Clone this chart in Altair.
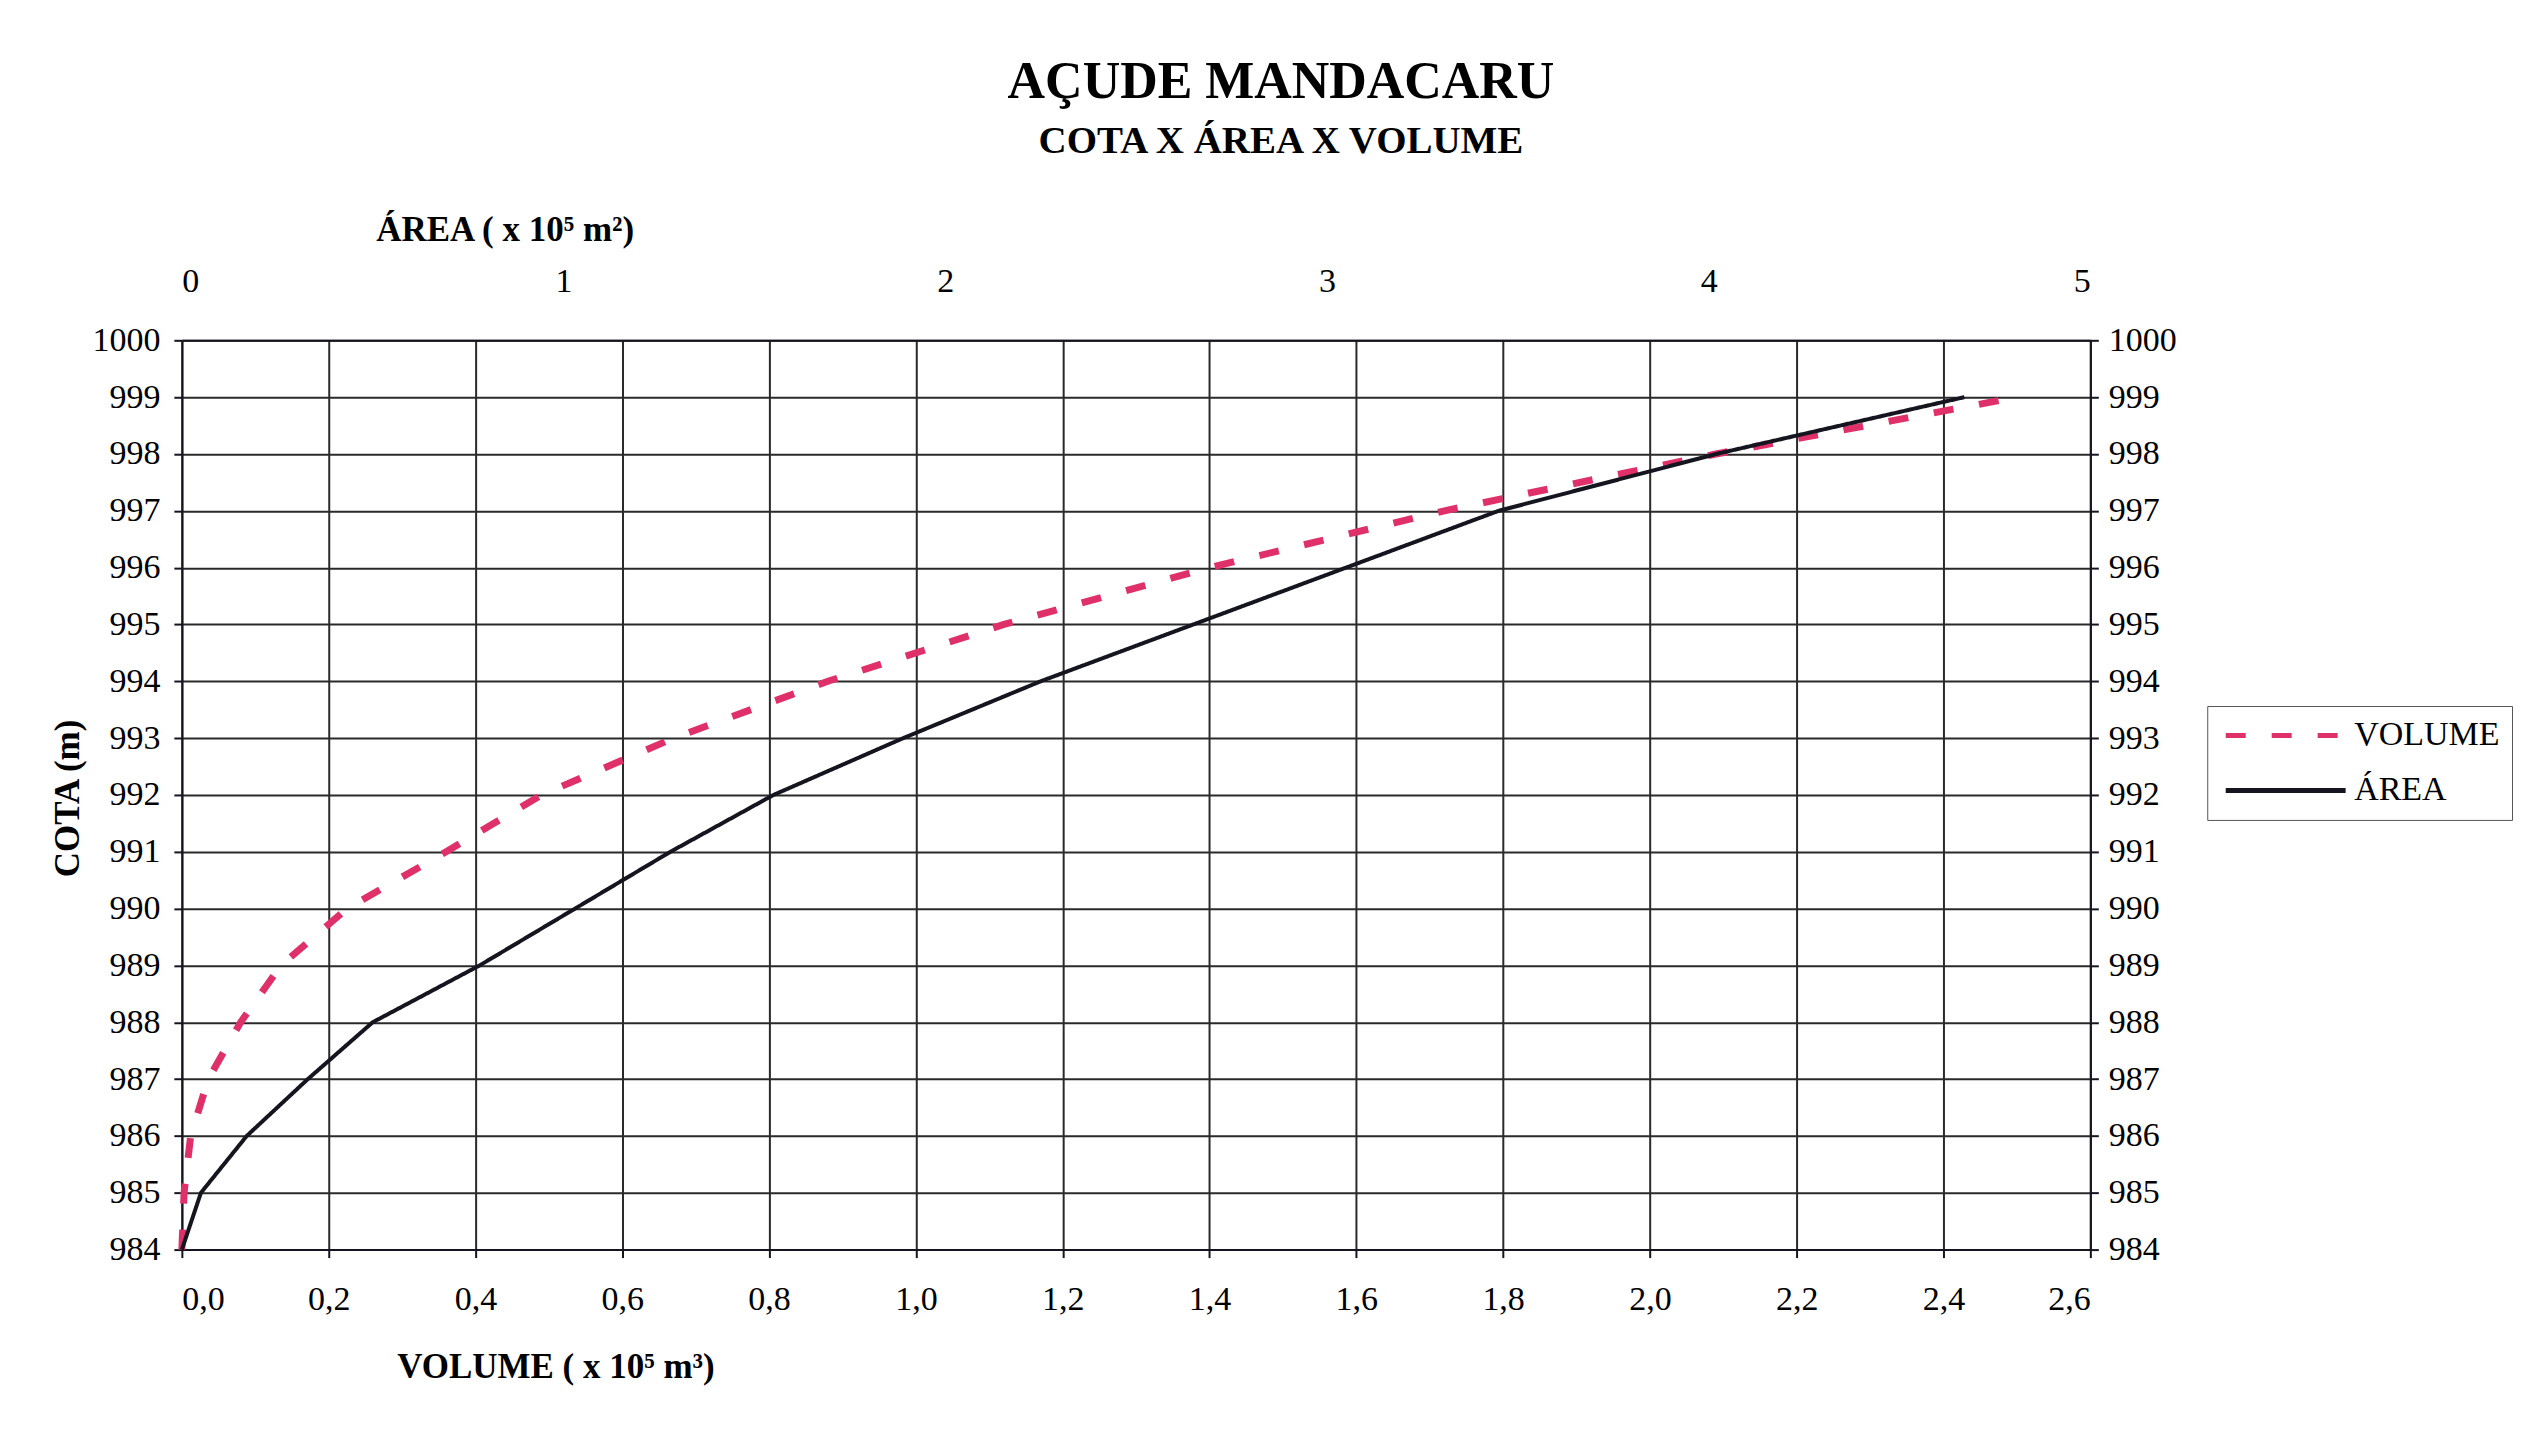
import altair as alt
import pandas as pd

SERIF = "Liberation Serif"
RED = "#e0306a"
BLACK = "#15151f"

cota = [984, 985, 986, 987, 988, 989, 990, 991, 992, 993, 994, 995, 996, 997, 998, 999]
volume = [0.0, 0.003, 0.012, 0.036, 0.08, 0.135, 0.225, 0.36, 0.49, 0.67, 0.88, 1.12, 1.40, 1.72, 2.09, 2.50]
area = [0.0, 0.05, 0.17, 0.33, 0.50, 0.78, 1.03, 1.28, 1.55, 1.89, 2.25, 2.65, 3.05, 3.45, 4.02, 4.67]
series = ["VOLUME", "ÁREA"]

volume_ticks = [0.0, 0.2, 0.4, 0.6, 0.8, 1.0, 1.2, 1.4, 1.6, 1.8, 2.0, 2.2, 2.4, 2.6]
area_ticks = [0, 1, 2, 3, 4, 5]
cota_ticks = [984, 985, 986, 987, 988, 989, 990, 991, 992, 993, 994, 995, 996, 997, 998, 999, 1000]

vol_df = pd.DataFrame({"cota": cota, "valor": volume, "serie": series[0]})
area_df = pd.DataFrame({"cota": cota, "valor": area, "serie": series[1]})

legend = alt.Legend(
    title=None, orient="none", legendX=2027, legendY=366,
    symbolType="M-7,0L1,0", symbolSize=900, symbolOffset=94, symbolStrokeWidth=5,
    labelFont=SERIF, labelFontSize=34, labelColor="black", labelOffset=6,
    rowPadding=20, strokeColor="#555", padding=12, fillColor="white",
)
color = alt.Color("serie:N", scale=alt.Scale(domain=series, range=[RED, BLACK]), legend=legend)
dash = alt.StrokeDash("serie:N", scale=alt.Scale(domain=series, range=[[20, 26], [1, 0]]), legend=legend)

common_axis = dict(
    labelFont=SERIF, labelFontSize=34, labelColor="black",
    titleFont=SERIF, titleFontSize=35, titleFontWeight="bold", titleColor="black",
    domainColor=BLACK, domainWidth=2, tickColor=BLACK, tickWidth=2, tickSize=8,
    gridColor="#2a2a2a", gridWidth=2, gridOpacity=1,
)

vol = alt.Chart(vol_df).mark_line(strokeWidth=7, strokeCap="butt").encode(
    x=alt.X("valor:Q", scale=alt.Scale(domain=[0, 2.6], nice=False, zero=False),
            axis=alt.Axis(orient="bottom", values=volume_ticks, grid=True,
                          labelExpr="replace(format(datum.value, '.1f'), '.', ',')",
                          labelPadding=25, title="VOLUME ( x 10⁵ m³)",
                          titleX=215, titleY=117, titleAlign="left", titleBaseline="middle",
                          **common_axis)),
    y=alt.Y("cota:Q", scale=alt.Scale(domain=[984, 1000], nice=False, zero=False),
            axis=alt.Axis(orient="left", values=cota_ticks, grid=True, format="d",
                          labelPadding=14, title="COTA (m)",
                          titleX=-114, titleY=458, titleAngle=270, titleAlign="center",
                          titleBaseline="middle", **common_axis)),
    color=color, strokeDash=dash, order=alt.Order("cota:Q"),
)

ar = alt.Chart(area_df).mark_line(strokeWidth=4).encode(
    x=alt.X("valor:Q", scale=alt.Scale(domain=[0, 5], nice=False, zero=False),
            axis=alt.Axis(orient="top", values=area_ticks, grid=False, ticks=False, format="d",
                          labelPadding=42, title="ÁREA ( x 10⁵ m²)",
                          titleX=194, titleY=-111, titleAlign="left", titleBaseline="middle",
                          **common_axis)),
    y=alt.Y("cota:Q", scale=alt.Scale(domain=[984, 1000], nice=False, zero=False),
            axis=alt.Axis(orient="right", values=cota_ticks, grid=False, format="d",
                          labelPadding=10, title=None, **common_axis)),
    color=color, strokeDash=dash, order=alt.Order("cota:Q"),
)

chart = alt.layer(vol, ar).resolve_scale(x="independent", y="independent").properties(
    width=1910, height=910,
    autosize=alt.AutoSizeParams(type="none"),
    padding={"left": 174, "top": 332, "right": 430, "bottom": 200},
    title=alt.TitleParams(
        "AÇUDE MANDACARU", subtitle="COTA X ÁREA X VOLUME",
        font=SERIF, fontSize=52, fontWeight="bold", color="black",
        subtitleFont=SERIF, subtitleFontSize=39, subtitleFontWeight="bold", subtitleColor="black",
        anchor="middle", dx=145, offset=50, subtitlePadding=14,
    ),
).configure_view(stroke=BLACK, strokeWidth=2).configure(background="white")

chart.save("out.html", embed_options={"renderer": "svg", "actions": False})
